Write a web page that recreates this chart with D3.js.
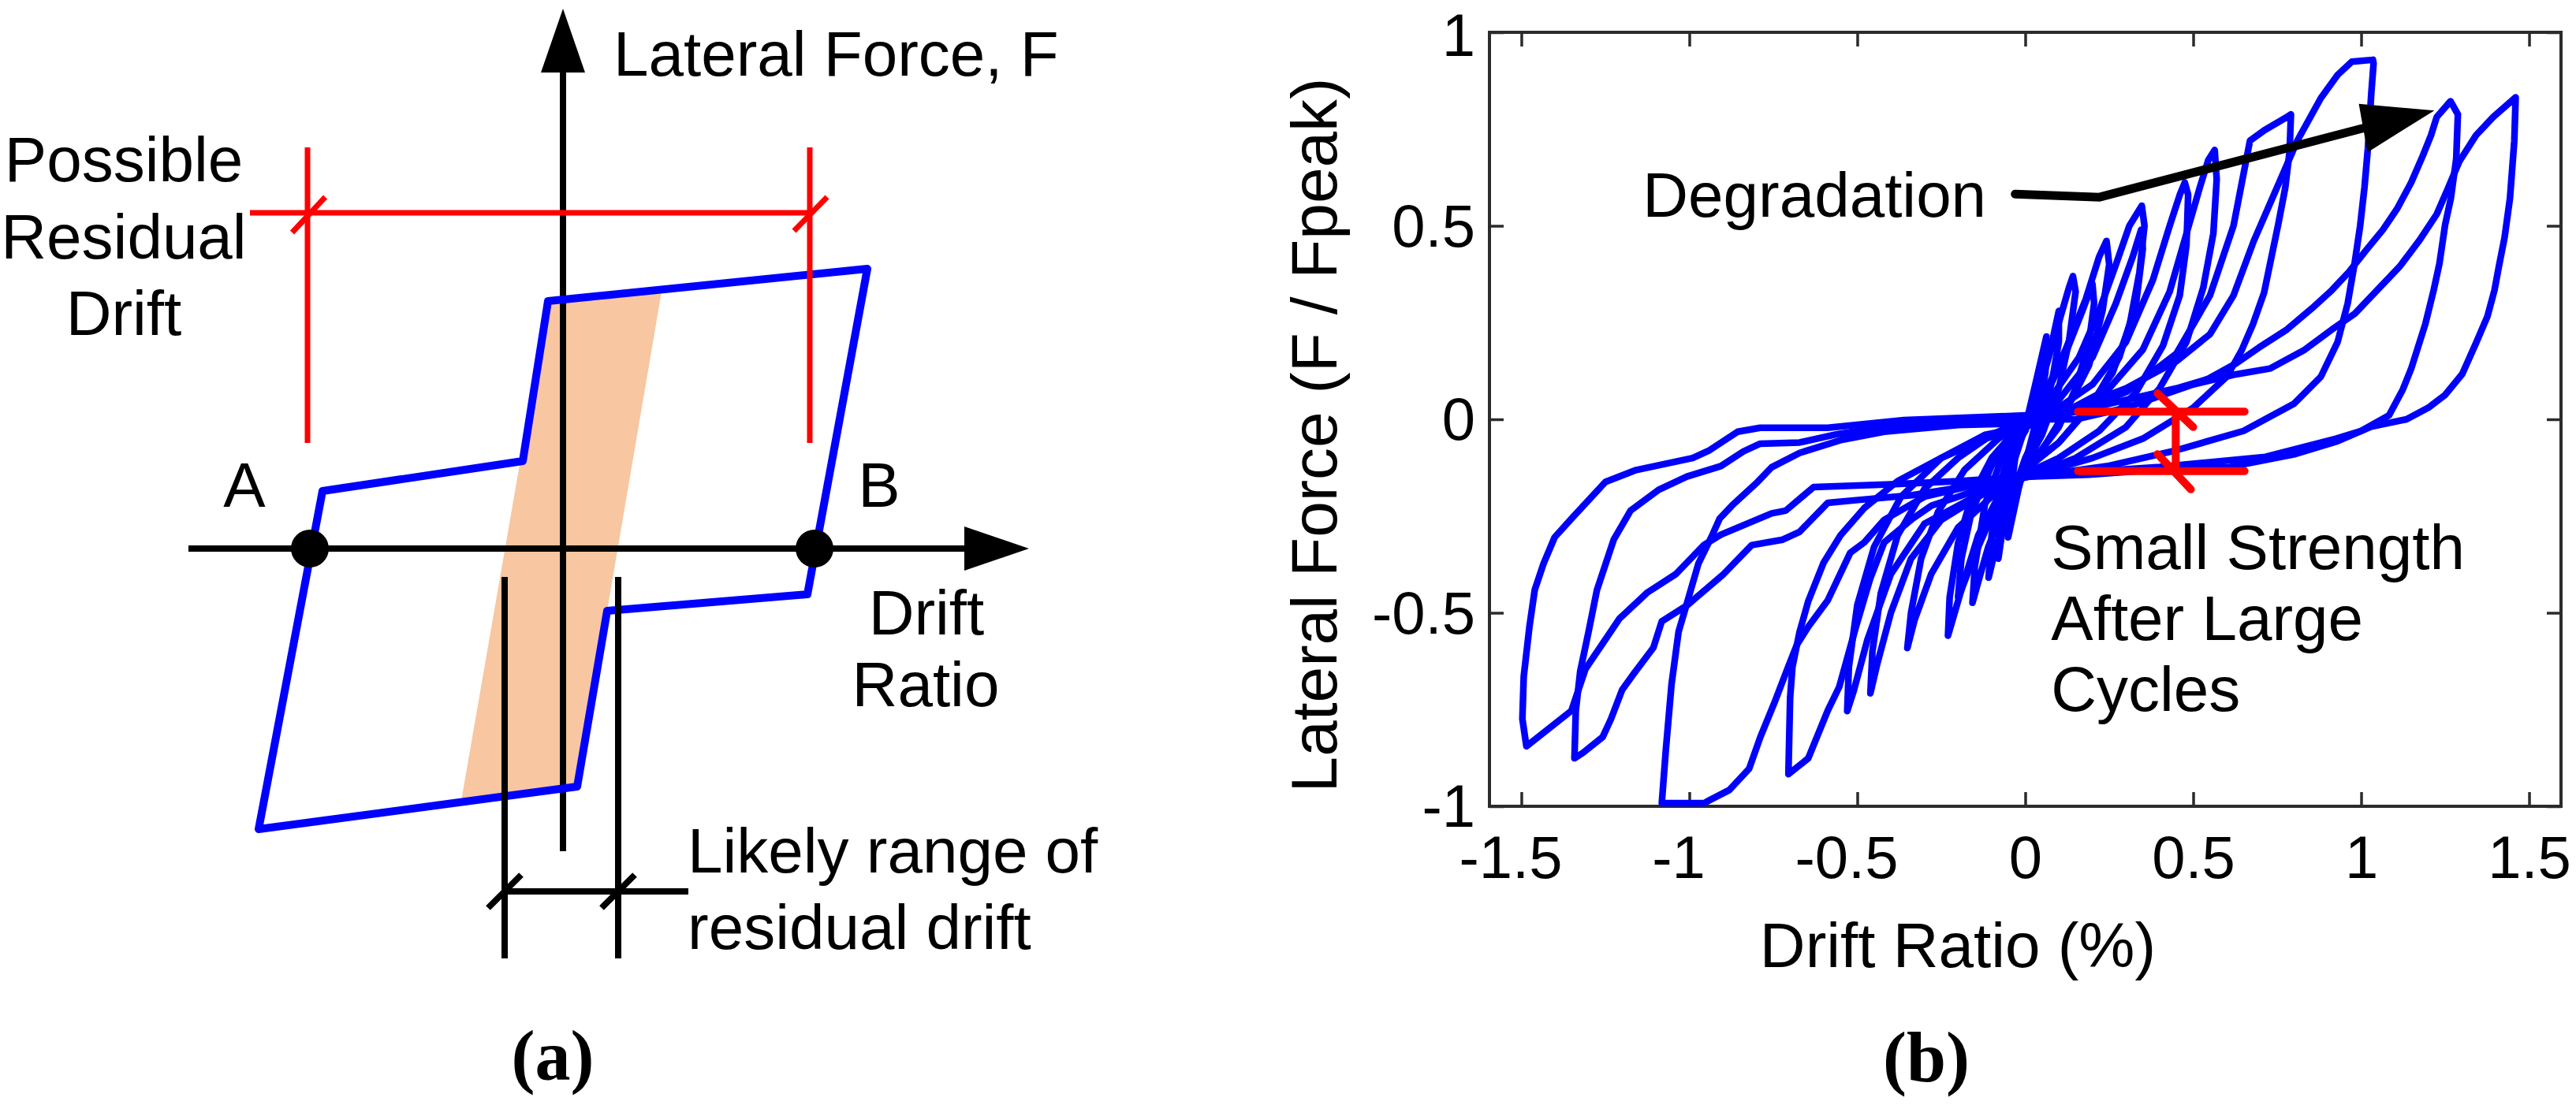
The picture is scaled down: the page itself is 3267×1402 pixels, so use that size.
<!DOCTYPE html>
<html>
<head>
<meta charset="utf-8">
<script src="https://cdn.jsdelivr.net/npm/d3@7"></script>
<style>
  body { margin: 0; background: #fff; }
  svg { display: block; }
</style>
</head>
<body>
<div id="chart"></div>
<script>
'use strict';

// ---------- panel (a): schematic, units of 100px around the axes origin ----------
var loopA = [[-3.86,-3.56],[-3.05,0.73],[-0.51,1.11],[-0.19,3.14],[3.86,3.55],[3.10,-0.58],[0.56,-0.79],[0.18,-3.02]];
var bandA = [[-0.19,3.14],[1.25,3.26],[0.18,-3.02],[-1.29,-3.2]];
var axisLinesA = [ [[0,-3.84],[0,6.1]], [[-4.75,0],[5.2,0]] ];
var arrowHeadsA = [ [[0,6.85],[-0.28,6.04],[0.28,6.04]], [[5.91,0],[5.09,0.28],[5.09,-0.28]] ];
var redLinesA = [
  [[-3.97,4.26],[3.13,4.26]],
  [[-3.24,1.34],[-3.24,5.09]],
  [[3.13,1.34],[3.13,5.09]],
  [[-3.435,4.01],[-3.015,4.46]],
  [[2.93,4.03],[3.35,4.46]]
];
var dimLinesA = [
  [[-0.74,-0.36],[-0.74,-5.2]],
  [[0.70,-0.36],[0.70,-5.2]],
  [[-0.74,-4.35],[1.59,-4.35]],
  [[-0.95,-4.56],[-0.53,-4.14]],
  [[0.49,-4.56],[0.91,-4.14]]
];
var dotsA = [[-3.21,0],[3.19,0]];
var labelsA = [
  { t: "Lateral Force, F", p: [0.64,6.0], a: "start" },
  { t: "Possible", p: [-5.57,4.66], a: "middle" },
  { t: "Residual", p: [-5.57,3.68], a: "middle" },
  { t: "Drift", p: [-5.57,2.71], a: "middle" },
  { t: "A", p: [-4.04,0.53], a: "middle" },
  { t: "B", p: [4.01,0.53], a: "middle" },
  { t: "Drift", p: [4.61,-1.09], a: "middle" },
  { t: "Ratio", p: [4.60,-2.0], a: "middle" },
  { t: "Likely range of", p: [1.58,-4.11], a: "start" },
  { t: "residual drift", p: [1.58,-5.08], a: "start" }
];

// ---------- panel (b): drift ratio (%) vs F / Fpeak ----------
var xTicks = [-1.5,-1,-0.5,0,0.5,1,1.5];
var yTicks = [-1,-0.5,0,0.5,1];

var cycle01 = [[0,-0.02],[0.03,0.09],[0.063,0.214],[0.06,0.12],[0.04,0.02],[0.01,-0.08],[-0.02,-0.18],[-0.051,-0.305],[-0.045,-0.2],[-0.03,-0.1],[0,-0.02]];
var cycle02 = [[0,-0.03],[0.04,0.08],[0.08,0.2],[0.1,0.28],[0.1,0.2],[0.08,0.1],[0.04,-0.03],[0,-0.1],[-0.04,-0.2],[-0.07,-0.3],[-0.08,-0.36],[-0.075,-0.26],[-0.05,-0.14],[-0.02,-0.06],[0,-0.03]];
var cycle03 = [[0,-0.03],[0.05,0.1],[0.1,0.25],[0.13,0.34],[0.142,0.37],[0.15,0.33],[0.13,0.2],[0.1,0.08],[0.05,-0.04],[0,-0.12],[-0.05,-0.22],[-0.09,-0.34],[-0.109,-0.409],[-0.1,-0.3],[-0.08,-0.18],[-0.04,-0.07],[0,-0.03]];
var cycle04 = [[0,-0.02],[0.06,0.06],[0.12,0.17],[0.17,0.28],[0.2,0.35],[0.205,0.3],[0.19,0.2],[0.15,0.08],[0.1,-0.02],[0.03,-0.1],[-0.04,-0.17],[-0.1,-0.25],[-0.15,-0.35],[-0.19,-0.44],[-0.2,-0.46],[-0.19,-0.36],[-0.16,-0.24],[-0.1,-0.12],[-0.04,-0.05],[0,-0.02]];
var cycle05 = [[0,-0.02],[0.06,0.07],[0.12,0.18],[0.18,0.31],[0.22,0.42],[0.242,0.461],[0.25,0.4],[0.23,0.28],[0.19,0.14],[0.12,0.02],[0.05,-0.08],[0,-0.14],[-0.06,-0.22],[-0.11,-0.33],[-0.14,-0.42],[-0.157,-0.474],[-0.15,-0.38],[-0.12,-0.22],[-0.07,-0.1],[0,-0.02]];
var cycle06 = [[0,0],[0.08,0.06],[0.16,0.16],[0.22,0.28],[0.27,0.4],[0.31,0.5],[0.347,0.552],[0.355,0.5],[0.34,0.38],[0.31,0.24],[0.26,0.12],[0.18,0.02],[0.1,-0.06],[0,-0.13],[-0.08,-0.2],[-0.14,-0.3],[-0.19,-0.44],[-0.23,-0.559],[-0.225,-0.46],[-0.2,-0.32],[-0.16,-0.2],[-0.1,-0.1],[0,0]];
var cycle07 = [[0,-0.01],[0.1,0.05],[0.2,0.16],[0.27,0.3],[0.32,0.42],[0.345,0.49],[0.35,0.44],[0.33,0.3],[0.28,0.16],[0.2,0.04],[0.1,-0.06],[0,-0.13],[-0.1,-0.2],[-0.2,-0.28],[-0.28,-0.4],[-0.33,-0.52],[-0.351,-0.591],[-0.34,-0.5],[-0.31,-0.36],[-0.26,-0.24],[-0.18,-0.13],[-0.08,-0.05],[0,-0.01]];
var cycle08 = [[0,0],[0.1,0.03],[0.2,0.09],[0.3,0.2],[0.38,0.36],[0.43,0.5],[0.46,0.58],[0.475,0.612],[0.485,0.58],[0.48,0.45],[0.46,0.32],[0.41,0.19],[0.33,0.07],[0.22,-0.03],[0.1,-0.1],[0,-0.14],[-0.12,-0.19],[-0.25,-0.26],[-0.34,-0.36],[-0.4,-0.5],[-0.44,-0.63],[-0.461,-0.708],[-0.455,-0.6],[-0.43,-0.45],[-0.38,-0.3],[-0.3,-0.18],[-0.2,-0.1],[-0.1,-0.04],[0,0]];
var cycle09 = [[0,-0.02],[0.12,0.02],[0.25,0.08],[0.35,0.18],[0.43,0.33],[0.48,0.48],[0.52,0.6],[0.545,0.67],[0.564,0.696],[0.57,0.62],[0.56,0.48],[0.53,0.34],[0.48,0.2],[0.4,0.08],[0.3,-0.02],[0.15,-0.1],[0,-0.15],[-0.15,-0.2],[-0.3,-0.27],[-0.4,-0.4],[-0.47,-0.57],[-0.51,-0.7],[-0.53,-0.754],[-0.525,-0.64],[-0.5,-0.48],[-0.45,-0.33],[-0.37,-0.2],[-0.25,-0.1],[-0.12,-0.04],[0,-0.02]];
var cycle10 = [[0,0],[0.15,0.02],[0.3,0.07],[0.45,0.17],[0.55,0.32],[0.62,0.5],[0.669,0.72],[0.712,0.747],[0.779,0.781],[0.791,0.788],[0.787,0.693],[0.774,0.598],[0.753,0.503],[0.732,0.415],[0.711,0.327],[0.678,0.246],[0.644,0.178],[0.6,0.11],[0.5,0.03],[0.35,-0.05],[0.2,-0.1],[0,-0.15],[-0.1,-0.17],[-0.2,-0.2],[-0.279,-0.223],[-0.336,-0.257],[-0.42,-0.318],[-0.462,-0.413],[-0.504,-0.536],[-0.554,-0.692],[-0.588,-0.753],[-0.646,-0.876],[-0.705,-0.917],[-0.7,-0.72],[-0.693,-0.64],[-0.672,-0.55],[-0.646,-0.47],[-0.6,-0.37],[-0.55,-0.3],[-0.48,-0.23],[-0.38,-0.16],[-0.25,-0.1],[-0.12,-0.05],[0,-0.02]];
var cycle11 = [[0,-0.02],[0.15,0.03],[0.3,0.08],[0.45,0.15],[0.55,0.22],[0.62,0.32],[0.68,0.46],[0.75,0.6],[0.81,0.72],[0.88,0.83],[0.93,0.89],[0.972,0.924],[1.035,0.929],[1.037,0.92],[1.03,0.84],[1.02,0.7],[1.01,0.6],[0.997,0.5],[0.98,0.4],[0.96,0.3],[0.93,0.2],[0.88,0.11],[0.8,0.04],[0.65,-0.03],[0.45,-0.08],[0.25,-0.12],[0,-0.15],[-0.15,-0.17],[-0.3,-0.2],[-0.42,-0.26],[-0.479,-0.318],[-0.521,-0.345],[-0.588,-0.468],[-0.646,-0.536],[-0.68,-0.583],[-0.705,-0.638],[-0.747,-0.733],[-0.789,-0.822],[-0.822,-0.903],[-0.881,-0.958],[-0.948,-0.988],[-0.956,-0.992],[-1.082,-0.992],[-1.07,-0.855],[-1.053,-0.685],[-1.032,-0.549],[-1.007,-0.475],[-0.973,-0.373],[-0.931,-0.298],[-0.91,-0.257],[-0.873,-0.223],[-0.797,-0.162],[-0.755,-0.124],[-0.672,-0.087],[-0.546,-0.053],[-0.42,-0.032],[-0.2,-0.015],[0,-0.01]];
var cycle12 = [[0,-0.01],[0.15,0.02],[0.3,0.05],[0.45,0.08],[0.543,0.104],[0.627,0.144],[0.695,0.185],[0.779,0.232],[0.854,0.287],[0.913,0.334],[0.964,0.381],[1.014,0.436],[1.065,0.49],[1.107,0.544],[1.149,0.612],[1.183,0.68],[1.208,0.734],[1.225,0.781],[1.266,0.822],[1.288,0.788],[1.283,0.673],[1.267,0.571],[1.25,0.503],[1.233,0.402],[1.216,0.334],[1.191,0.246],[1.149,0.131],[1.124,0.077],[1.083,0.01],[1.0,-0.03],[0.925,-0.05],[0.715,-0.097],[0.4,-0.123],[0.2,-0.135],[0,-0.145],[-0.15,-0.17],[-0.336,-0.196],[-0.504,-0.209],[-0.588,-0.216],[-0.672,-0.291],[-0.722,-0.311],[-0.814,-0.325],[-0.898,-0.4],[-1.007,-0.481],[-1.082,-0.522],[-1.107,-0.59],[-1.166,-0.658],[-1.2,-0.699],[-1.233,-0.774],[-1.258,-0.821],[-1.317,-0.862],[-1.342,-0.876],[-1.338,-0.754],[-1.325,-0.652],[-1.3,-0.549],[-1.275,-0.441],[-1.225,-0.311],[-1.175,-0.236],[-1.091,-0.182],[-1.007,-0.148],[-0.906,-0.121],[-0.839,-0.083],[-0.789,-0.063],[-0.672,-0.06],[-0.563,-0.039],[-0.42,-0.019],[-0.2,-0.01],[0,0]];
var cycle13 = [[0,0],[0.15,0],[0.3,0.03],[0.5,0.09],[0.62,0.115],[0.728,0.131],[0.829,0.178],[0.913,0.232],[0.981,0.273],[1.048,0.334],[1.115,0.395],[1.174,0.463],[1.225,0.53],[1.259,0.598],[1.292,0.666],[1.342,0.734],[1.393,0.781],[1.46,0.832],[1.456,0.72],[1.443,0.571],[1.427,0.47],[1.41,0.395],[1.397,0.334],[1.376,0.266],[1.343,0.199],[1.301,0.117],[1.25,0.063],[1.2,0.03],[1.135,0],[1.03,-0.019],[0.925,-0.058],[0.799,-0.091],[0.61,-0.123],[0.399,-0.13],[0.189,-0.143],[-0.021,-0.149],[-0.2,-0.16],[-0.4,-0.168],[-0.63,-0.175],[-0.713,-0.236],[-0.755,-0.243],[-0.906,-0.298],[-0.957,-0.325],[-1.04,-0.4],[-1.124,-0.447],[-1.208,-0.515],[-1.309,-0.645],[-1.351,-0.753],[-1.485,-0.845],[-1.497,-0.774],[-1.493,-0.665],[-1.476,-0.536],[-1.46,-0.44],[-1.434,-0.373],[-1.401,-0.305],[-1.351,-0.257],[-1.25,-0.162],[-1.158,-0.131],[-0.99,-0.1],[-0.94,-0.08],[-0.856,-0.032],[-0.789,-0.022],[-0.588,-0.022],[-0.361,-0.002],[0,0.01]];
var cycles = [cycle01, cycle02, cycle03, cycle04, cycle05, cycle06, cycle07, cycle08, cycle09, cycle10, cycle11, cycle12, cycle13];

// annotations of panel (b), in data units
var redMarksB = [
  [[0.157,0.02],[0.653,0.02]],
  [[0.157,-0.134],[0.653,-0.134]],
  [[0.448,0.02],[0.448,-0.134]],
  [[0.394,0.067],[0.5,-0.02]],
  [[0.394,-0.09],[0.493,-0.181]]
];
var arrowShaftB = [[-0.03,0.582],[0.221,0.574],[1.005,0.752]];
var arrowHeadB = [[0.993,0.815],[1.218,0.798],[1.019,0.69]];
var notesB = [
  { t: "Degradation", p: [-1.139,0.523] },
  { t: "Small Strength", p: [0.077,-0.387] },
  { t: "After Large", p: [0.077,-0.57] },
  { t: "Cycles", p: [0.077,-0.754] }
];

var W = 3267, H = 1402;
var sans = "'Liberation Sans', Arial, sans-serif";
var serif = "'Liberation Serif', 'Times New Roman', serif";

var svg = d3.select("#chart").append("svg")
    .attr("width", W)
    .attr("height", H)
    .attr("viewBox", "0 0 " + W + " " + H);

//  ---- panel (a) ----
var ax = d3.scaleLinear().domain([0, 1]).range([714, 814]);
var ay = d3.scaleLinear().domain([0, 1]).range([696, 596]);
var lineA = d3.line().x(function(d){ return ax(d[0]); }).y(function(d){ return ay(d[1]); });

var gA = svg.append("g").attr("class", "panelA");

gA.append("path")
    .attr("d", lineA(bandA) + "Z")
    .attr("fill", "#f8c6a0")
    .attr("stroke", "none");

gA.selectAll("path.axisA")
    .data(axisLinesA)
    .enter().append("path")
    .attr("class", "axisA")
    .attr("d", lineA)
    .attr("stroke", "#000")
    .attr("stroke-width", 8)
    .attr("fill", "none");

gA.selectAll("path.headA")
    .data(arrowHeadsA)
    .enter().append("path")
    .attr("class", "headA")
    .attr("d", function(d){ return lineA(d) + "Z"; })
    .attr("fill", "#000");

gA.append("path")
    .attr("d", lineA(loopA) + "Z")
    .attr("fill", "none")
    .attr("stroke", "#0000ff")
    .attr("stroke-width", 10)
    .attr("stroke-linejoin", "round");

gA.selectAll("path.redA")
    .data(redLinesA)
    .enter().append("path")
    .attr("class", "redA")
    .attr("d", lineA)
    .attr("stroke", "#ff0000")
    .attr("stroke-width", 7)
    .attr("fill", "none");

gA.selectAll("path.dimA")
    .data(dimLinesA)
    .enter().append("path")
    .attr("class", "dimA")
    .attr("d", lineA)
    .attr("stroke", "#000")
    .attr("stroke-width", 8)
    .attr("fill", "none");

gA.selectAll("circle")
    .data(dotsA)
    .enter().append("circle")
    .attr("cx", function(d){ return ax(d[0]); })
    .attr("cy", function(d){ return ay(d[1]); })
    .attr("r", 24)
    .attr("fill", "#000");

gA.selectAll("text.lblA")
    .data(labelsA)
    .enter().append("text")
    .attr("class", "lblA")
    .attr("x", function(d){ return ax(d.p[0]); })
    .attr("y", function(d){ return ay(d.p[1]); })
    .attr("text-anchor", function(d){ return d.a; })
    .style("font-family", sans)
    .style("font-size", "80px")
    .text(function(d){ return d.t; });

gA.append("text")
    .attr("x", ax(-0.13))
    .attr("y", ay(-6.74))
    .attr("text-anchor", "middle")
    .style("font-family", serif)
    .style("font-weight", "bold")
    .style("font-size", "90px")
    .text("(a)");

//  ---- panel (b) ----
var x = d3.scaleLinear().domain([-1.595, 1.595]).range([1889, 3248]);
var y = d3.scaleLinear().domain([-1, 1]).range([1023, 41]);
var lineB = d3.line().x(function(d){ return x(d[0]); }).y(function(d){ return y(d[1]); });

var gB = svg.append("g").attr("class", "panelB");
var axisColor = "#2b2b2b";

function styleAxis(g) {
  g.select(".domain").remove();
  g.selectAll(".tick line").attr("stroke", axisColor).attr("stroke-width", 3.5);
  g.selectAll(".tick text")
      .attr("fill", "#000")
      .style("font-family", sans)
      .style("font-size", "76px");
}

// bottom axis, ticks inward
gB.append("g")
    .attr("transform", "translate(0," + y.range()[0] + ")")
    .call(d3.axisBottom(x).tickValues(xTicks).tickSize(-18).tickFormat(function(d){ return String(d); }))
    .call(styleAxis)
    .call(function(g){
      g.selectAll(".tick text")
          .attr("y", 91)
          .attr("dy", 0)
          .attr("dx", function(d){ return d < 0 ? -14 : 0; });
    });

gB.append("g")
    .attr("transform", "translate(0," + y.range()[1] + ")")
    .call(d3.axisTop(x).tickValues(xTicks).tickSize(-18).tickFormat(""))
    .call(styleAxis);

gB.append("g")
    .attr("transform", "translate(" + x.range()[0] + ",0)")
    .call(d3.axisLeft(y).tickValues(yTicks).tickSize(-18).tickFormat(function(d){ return String(d); }))
    .call(styleAxis)
    .call(function(g){
      g.selectAll(".tick text")
          .attr("x", -18)
          .attr("dy", "0.34em")
          .attr("y", function(d){ return d === 1 ? 4 : 0; });
    });

gB.append("g")
    .attr("transform", "translate(" + x.range()[1] + ",0)")
    .call(d3.axisRight(y).tickValues(yTicks).tickSize(-18).tickFormat(""))
    .call(styleAxis);

// plot box
gB.append("rect")
    .attr("x", x.range()[0])
    .attr("y", y.range()[1])
    .attr("width", x.range()[1] - x.range()[0])
    .attr("height", y.range()[0] - y.range()[1])
    .attr("fill", "none")
    .attr("stroke", axisColor)
    .attr("stroke-width", 4);

// hysteresis loops
gB.selectAll("path.cycle")
    .data(cycles)
    .enter().append("path")
    .attr("class", "cycle")
    .attr("d", lineB)
    .attr("fill", "none")
    .attr("stroke", "#0000ff")
    .attr("stroke-width", 8.5)
    .attr("stroke-linejoin", "round")
    .attr("stroke-linecap", "round");

// red marks
gB.selectAll("path.redB")
    .data(redMarksB)
    .enter().append("path")
    .attr("class", "redB")
    .attr("d", lineB)
    .attr("stroke", "#ff0000")
    .attr("stroke-width", 10)
    .attr("stroke-linecap", "round")
    .attr("fill", "none");

// degradation arrow
gB.append("path")
    .attr("d", lineB(arrowShaftB))
    .attr("fill", "none")
    .attr("stroke", "#000")
    .attr("stroke-width", 11)
    .attr("stroke-linecap", "round");
gB.append("path")
    .attr("d", lineB(arrowHeadB) + "Z")
    .attr("fill", "#000");

gB.selectAll("text.note")
    .data(notesB)
    .enter().append("text")
    .attr("class", "note")
    .attr("x", function(d){ return x(d.p[0]); })
    .attr("y", function(d){ return y(d.p[1]); })
    .style("font-family", sans)
    .style("font-size", "80px")
    .text(function(d){ return d.t; });

// axis titles
gB.append("text")
    .attr("transform", "translate(1695,552) rotate(-90)")
    .attr("text-anchor", "middle")
    .style("font-family", sans)
    .style("font-size", "82px")
    .text("Lateral Force (F / Fpeak)");

gB.append("text")
    .attr("x", 2483)
    .attr("y", 1227)
    .attr("text-anchor", "middle")
    .style("font-family", sans)
    .style("font-size", "80px")
    .text("Drift Ratio (%)");

gB.append("text")
    .attr("x", 2443)
    .attr("y", 1372)
    .attr("text-anchor", "middle")
    .style("font-family", serif)
    .style("font-weight", "bold")
    .style("font-size", "90px")
    .text("(b)");
</script>
</body>
</html>
